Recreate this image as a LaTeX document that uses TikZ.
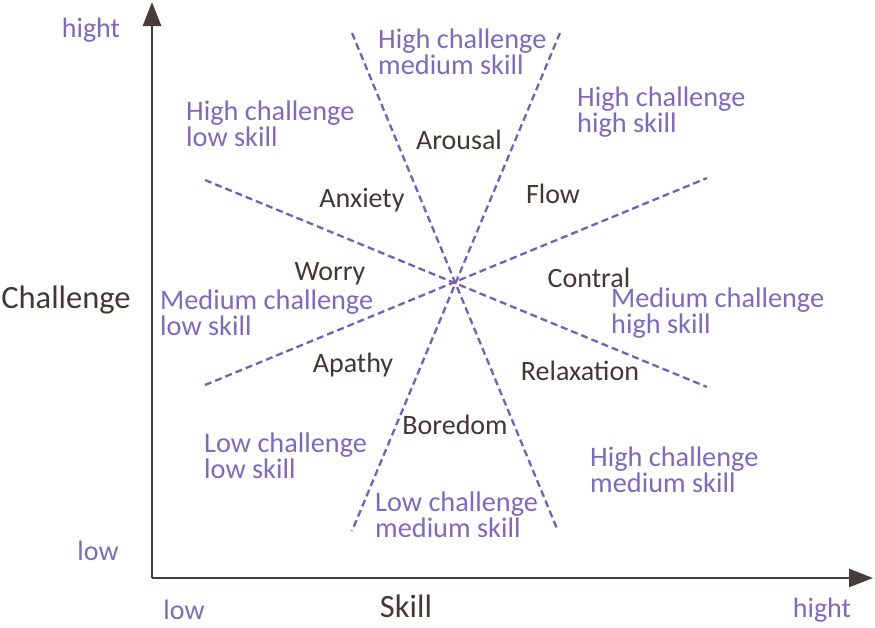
\documentclass[tikz,border=0pt]{standalone}
\usepackage{fontspec}
\setmainfont{Carlito}
\usepackage{tikz}
\usetikzlibrary{arrows.meta}
\definecolor{zonepurple}{HTML}{7D69C2}
\definecolor{dashpurple}{HTML}{7360BE}
\definecolor{labeldark}{HTML}{413735}
\definecolor{axisdark}{HTML}{463C3C}

\begin{document}
\begin{tikzpicture}[x=1pt,y=-1pt,
    zone/.style={text=zonepurple,align=left,anchor=west,inner sep=0pt,
                 font=\fontsize{28.3}{24.5}\selectfont},
    state/.style={text=labeldark,inner sep=0pt,font=\fontsize{28}{28}\selectfont},
    axislabel/.style={text=labeldark,inner sep=0pt,font=\fontsize{32.5}{32}\selectfont},
    tick/.style={text=zonepurple,inner sep=0pt,font=\fontsize{28}{28}\selectfont},
    divider/.style={dashpurple,line width=2.3pt,dash pattern=on 7pt off 4pt},
    axis/.style={axisdark,line width=2.5pt,-{Triangle[length=24pt,width=18pt]}}
]
\useasboundingbox (0,0) rectangle (875,627);

% axes
\coordinate (origin) at (152,578);
\coordinate (ytop)   at (152,2);
\coordinate (xend)   at (873,578);
\draw[axis] (origin) -- (ytop);
\draw[axis] (origin) -- (xend);

\node[axislabel] (challenge) at (66,300) {Challenge};
\node[axislabel] (skill)     at (406,606) {Skill};
\node[tick] (yhigh) at (91,30)  {hight};
\node[tick] (ylow)  at (98,551) {low};
\node[tick] (xlow)  at (184,610) {low};
\node[tick] (xhigh) at (822,610) {hight};

% dividing lines through the centre
\coordinate (centre) at (455,283);
\coordinate (a1) at (352,33);  \coordinate (a2) at (558,531);
\coordinate (b1) at (560,33);  \coordinate (b2) at (352,531);
\coordinate (c1) at (205,180); \coordinate (c2) at (707,387);
\coordinate (d1) at (205,385); \coordinate (d2) at (707,178);
\draw[divider] (a1) -- (a2);
\draw[divider] (b1) -- (b2);
\draw[divider] (c1) -- (c2);
\draw[divider] (d1) -- (d2);

% regions
\node[zone] (hcls) at (186,124) {High challenge\\low skill};
\node[zone] (hcms) at (378,52)  {High challenge\\medium skill};
\node[zone] (hchs) at (577,112) {High challenge\\high skill};
\node[zone] (mcls) at (160,313) {Medium challenge\\low skill};
\node[zone] (mchs) at (611,313) {Medium challenge\\high skill};
\node[zone] (lcls) at (204,456) {Low challenge\\low skill};
\node[zone] (lcms) at (375,515) {Low challenge\\medium skill};
\node[zone] (hcmsb) at (590,470) {High challenge\\medium skill};

% states
\node[state] (arousal)    at (459,140) {Arousal};
\node[state] (anxiety)    at (362,200) {Anxiety};
\node[state] (flow)       at (553,194) {Flow};
\node[state] (worry)      at (330,274) {Worry};
\node[state] (contral)    at (589,278) {Contral};
\node[state] (apathy)     at (353,365) {Apathy};
\node[state] (relaxation) at (580,371) {Relaxation};
\node[state] (boredom)    at (455,425) {Boredom};
\end{tikzpicture}
\end{document}
